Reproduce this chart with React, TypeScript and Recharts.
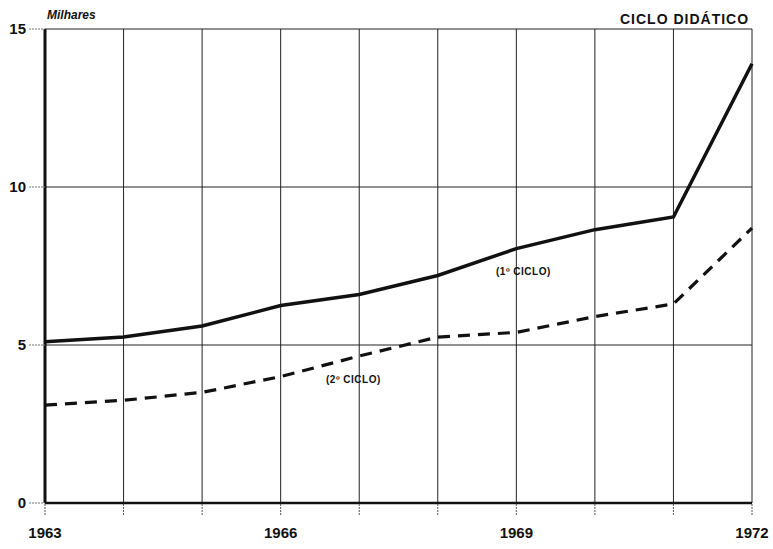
import { LineChart, Line, XAxis, YAxis, CartesianGrid } from 'recharts';

// Matrícula por ciclo (milhares)
const years = [1963, 1964, 1965, 1966, 1967, 1968, 1969, 1970, 1971, 1972];
const primeiroCiclo = [5.1, 5.25, 5.6, 6.25, 6.6, 7.2, 8.05, 8.65, 9.05, 13.9];
const segundoCiclo = [3.1, 3.25, 3.5, 4.0, 4.65, 5.25, 5.4, 5.9, 6.3, 8.7];
const labelYears = [1963, 1966, 1969, 1972];
const yTicks = [0, 5, 10, 15];

const data = years.map((y, i) => ({
  year: y,
  primeiro: primeiroCiclo[i],
  segundo: segundoCiclo[i],
}));

const font = '"Liberation Sans", Arial, sans-serif';

const textStyle: React.CSSProperties = {
  position: 'absolute',
  fontFamily: font,
  fontWeight: 700,
  color: '#111',
  whiteSpace: 'nowrap',
};

export default function App() {
  return (
    <div style={{ position: 'absolute', left: 0, top: 0, width: 773, height: 549, background: '#fff' }}>
      <LineChart
        width={773}
        height={549}
        data={data}
        margin={{ top: 29, right: 21, left: 0, bottom: 8 }}
      >
        <CartesianGrid stroke="#222" strokeWidth={1} />
        <XAxis
          dataKey="year"
          type="number"
          domain={[1963, 1972]}
          ticks={years}
          interval={0}
          height={38}
          tickFormatter={(v: number) => (labelYears.includes(v) ? String(v) : '')}
          tick={{ fill: '#111', fontSize: 15, fontFamily: font, fontWeight: 600 }}
          tickSize={12}
          tickMargin={12}
          tickLine={{ stroke: '#555', strokeDasharray: '2 1' }}
          axisLine={{ stroke: '#111', strokeWidth: 2.5 }}
        />
        <YAxis
          type="number"
          domain={[0, 15]}
          ticks={yTicks}
          width={45}
          tick={{ fill: '#111', fontSize: 15, fontFamily: font, fontWeight: 600 }}
          tickSize={16}
          tickMargin={3}
          tickLine={{ stroke: '#777', strokeDasharray: '2 1' }}
          axisLine={{ stroke: '#111', strokeWidth: 3 }}
        />
        <Line
          dataKey="segundo"
          stroke="#111"
          strokeWidth={3.2}
          strokeDasharray="12 8"
          dot={false}
          isAnimationActive={false}
        />
        <Line
          dataKey="primeiro"
          stroke="#111"
          strokeWidth={3.5}
          dot={false}
          isAnimationActive={false}
        />
      </LineChart>
      <div style={{ ...textStyle, left: 47, top: 8, fontSize: 12, fontStyle: 'italic' }}>Milhares</div>
      <div style={{ ...textStyle, left: 620, top: 11, fontSize: 14, letterSpacing: 1 }}>CICLO DIDÁTICO</div>
      <div style={{ ...textStyle, left: 496, top: 266, fontSize: 10, letterSpacing: 0.5 }}>(1º CICLO)</div>
      <div style={{ ...textStyle, left: 326, top: 374, fontSize: 10, letterSpacing: 0.5 }}>(2º CICLO)</div>
    </div>
  );
}
